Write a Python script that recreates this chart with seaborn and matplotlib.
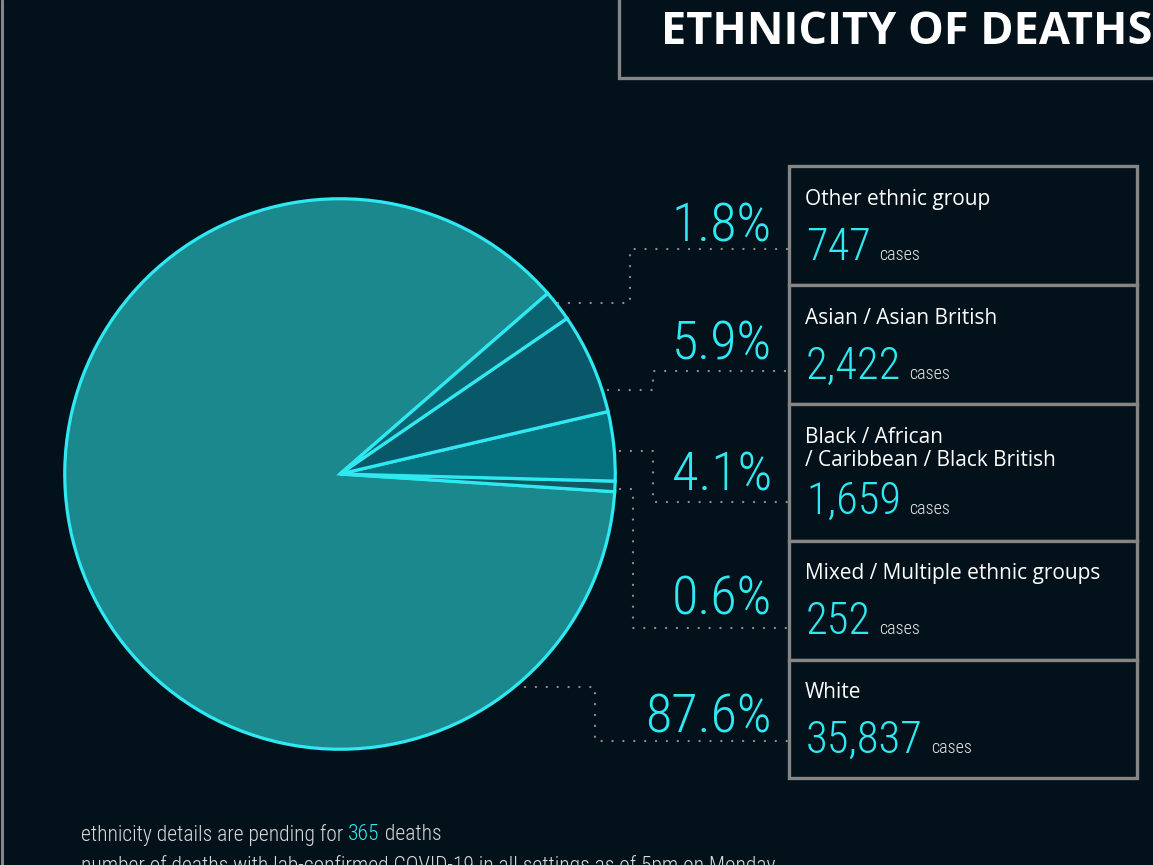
import matplotlib
matplotlib.use("Agg")
import matplotlib.pyplot as plt
import seaborn as sns
from matplotlib.patches import Rectangle

# data, in pie drawing order (counter-clockwise from the start angle)
groups = ["White", "Mixed / Multiple ethnic groups",
          "Black / African\n/ Caribbean / Black British",
          "Asian / Asian British", "Other ethnic group"]
cases = [35837, 252, 1659, 2422, 747]
pct_labels = ["87.6%", "0.6%", "4.1%", "5.9%", "1.8%"]
pending = 365

slice_colors = ["#1b888e", "#0e5a62", "#05717f", "#08586a", "#0b6471"]
BG = "#03111b"
CYAN = "#2ee9f2"
GREY = "#858585"

sns.set_theme(style="dark", rc={"axes.facecolor": BG, "figure.facecolor": BG})
plt.rcParams["font.family"] = ["Open Sans", "DejaVu Sans"]
COND = ["Roboto Condensed", "Open Sans Condensed", "Liberation Sans Narrow", "DejaVu Sans"]

W, H = 1153, 865
fig = plt.figure(figsize=(W / 100, H / 100), dpi=100)
fig.patch.set_facecolor(BG)

# pie
cx, cy, r = 340, 474, 278
pax = fig.add_axes([(cx - r) / W, (H - cy - r) / H, 2 * r / W, 2 * r / H])
pax.pie(cases, colors=slice_colors, startangle=41, counterclock=True,
        wedgeprops=dict(edgecolor=CYAN, linewidth=2.3))
pax.set_xlim(-1.01, 1.01)
pax.set_ylim(-1.01, 1.01)
pax.set_aspect("equal")
pax.axis("off")

# overlay in pixel coords
ax = fig.add_axes([0, 0, 1, 1])
ax.set_xlim(0, W)
ax.set_ylim(H, 0)
ax.axis("off")
ax.patch.set_alpha(0)

# left frame line
ax.plot([2, 2], [0, H], color=GREY, lw=2.2)

# title box
ax.add_patch(Rectangle((619, -10), 600, 88, fill=False, edgecolor=GREY, lw=2.4))
ax.text(661, 33, "ETHNICITY OF DEATHS", color="white", fontsize=32.5,
        fontweight="bold", va="center", ha="left")

# legend boxes, top to bottom
box_edges = [166, 285, 404, 541, 660, 778]
order = [4, 3, 2, 1, 0]
label_y = [199, 318, 449, 574, 693]
num_base = [260, 379, 514, 634, 753]
pct_y = [227, 345, 476, 600, 718]

fig.canvas.draw()
rend = fig.canvas.get_renderer()
inv = ax.transData.inverted()

for k, i in enumerate(order):
    top, bot = box_edges[k], box_edges[k + 1]
    ax.add_patch(Rectangle((789, top), 348, bot - top, facecolor=BG,
                           edgecolor=GREY, lw=2.4, zorder=2))
    ax.text(805, label_y[k], groups[i], color="white", fontsize=15,
            va="center", ha="left", linespacing=1.15, zorder=3)
    t = ax.text(806, num_base[k], f"{cases[i]:,}", color=CYAN, fontsize=32,
                family=COND, fontweight="light", va="baseline", ha="left", zorder=3)
    bb = t.get_window_extent(rend)
    x1 = inv.transform((bb.x1, bb.y0))[0]
    ax.text(x1 + 8, num_base[k], "cases", color="#e6e6e6", fontsize=13,
            family=COND, fontweight="light", va="baseline", ha="left", zorder=3)
    ax.text(772, pct_y[k], pct_labels[i], color=CYAN, fontsize=39,
            family=COND, fontweight="light", va="center", ha="right", zorder=3)

# dotted connectors
connectors = [
    [(558, 303), (630, 303), (630, 249), (788, 249)],
    [(608, 390), (653, 390), (653, 371), (788, 371)],
    [(620, 451), (653, 451), (653, 502), (788, 502)],
    [(620, 489), (633, 489), (633, 628), (788, 628)],
    [(525, 687), (595, 687), (595, 741), (788, 741)],
]
for pts in connectors:
    xs, ys = zip(*pts)
    ax.plot(xs, ys, color="#8f8f8f", lw=1.7, linestyle=(0, (0.01, 4.6)),
            dash_capstyle="round", solid_joinstyle="round", zorder=1)

# footer
FOOT = "#d9d9d9"
t1 = ax.text(81, 835, "ethnicity details are pending for ", color=FOOT,
             fontsize=15.5, family=COND, fontweight="light", va="center", ha="left")
bb = t1.get_window_extent(rend)
x1 = inv.transform((bb.x1, bb.y0))[0]
t2 = ax.text(x1, 835, str(pending), color=CYAN, fontsize=15.5, family=COND,
             fontweight="light", va="center", ha="left")
bb = t2.get_window_extent(rend)
x2 = inv.transform((bb.x1, bb.y0))[0]
ax.text(x2, 835, " deaths", color=FOOT, fontsize=15.5, family=COND,
        fontweight="light", va="center", ha="left")
ax.text(81, 866, "number of deaths with lab-confirmed COVID-19 in all settings as of 5pm on Monday",
        color=FOOT, fontsize=15.5, family=COND, fontweight="light",
        va="center", ha="left")

fig.savefig("out.png", dpi=100, facecolor=BG)
plt.close(fig)
